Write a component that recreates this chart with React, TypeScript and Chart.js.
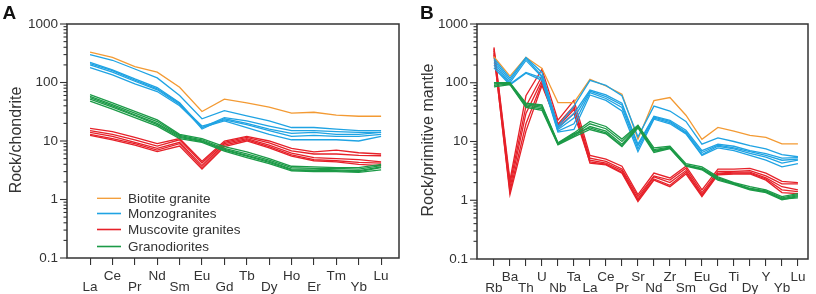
import React, { useEffect, useRef } from 'react';
import { Chart, registerables } from 'chart.js';

Chart.register(...registerables);

// ---------- categories ----------
const reeLabels = ['La', 'Ce', 'Pr', 'Nd', 'Sm', 'Eu', 'Gd', 'Tb', 'Dy', 'Ho', 'Er', 'Tm', 'Yb', 'Lu'];
const spiderLabels = ['Rb', 'Ba', 'Th', 'U', 'Nb', 'Ta', 'La', 'Ce', 'Pr', 'Sr', 'Nd', 'Zr', 'Sm', 'Eu', 'Gd', 'Ti', 'Dy', 'Y', 'Yb', 'Lu'];
const yTickLabels = [0.1, 1, 10, 100, 1000];
const groupNames = ['Biotite granite', 'Monzogranites', 'Muscovite granites', 'Granodiorites'];

// ---------- panel A: chondrite-normalised REE ----------
const reeBiotite = [
  [330, 268, 187, 150, 83, 32, 52, 45, 38, 30, 31, 27.7, 26.5, 26.5],
];
const reeMonzo = [
  [300, 240, 170, 120, 60, 24, 33, 27, 22, 17, 17, 16, 15, 15],
  [220, 165, 115, 82, 45, 17, 25, 22, 18, 15, 15, 14.5, 14, 14],
  [210, 160, 110, 78, 44, 16, 24, 20, 16, 13.5, 14, 13, 13, 14],
  [200, 150, 105, 75, 42, 18, 23, 19, 15, 12, 12.5, 12, 12, 13],
  [180, 135, 95, 70, 40, 17, 22, 17, 13, 10.5, 10.5, 10.5, 10, 12],
];
const reeMuscovite = [
  [16.5, 14.5, 11.5, 9, 11, 4.5, 10, 12, 10, 7.5, 6.5, 7, 6.3, 6.0],
  [15, 13, 10.5, 8.2, 10.5, 4.2, 9.5, 11.5, 9.3, 6.8, 6, 6, 5.7, 5.6],
  [14, 12, 9.5, 7.5, 9.5, 3.8, 9, 11, 8.5, 6.2, 5.2, 5, 4.8, 4.4],
  [13, 11, 9, 7, 9, 3.5, 8.5, 10.5, 8, 5.8, 4.8, 4.6, 4.3, 4.2],
  [12.5, 10.5, 8.5, 6.6, 8.2, 3.3, 8, 10, 7.6, 5.5, 4.6, 4.4, 4.0, 3.8],
];
const reeGranodiorite = [
  [62, 45, 32, 23, 13, 11, 8, 6.5, 5, 3.7, 3.6, 3.5, 3.5, 4.0],
  [58, 42, 30, 21.5, 12.5, 10.5, 7.5, 6, 4.7, 3.5, 3.4, 3.4, 3.3, 3.8],
  [55, 40, 28, 20, 12, 10, 7.2, 5.7, 4.5, 3.3, 3.3, 3.2, 3.1, 3.6],
  [52, 38, 27, 19, 11.5, 9.8, 7, 5.5, 4.3, 3.2, 3.1, 3.1, 3.0, 3.5],
  [48, 35, 25, 18, 11, 9.5, 6.7, 5.2, 4.1, 3.1, 3.0, 3.0, 2.9, 3.2],
];

// ---------- panel B: primitive-mantle-normalised spider ----------
const spBiotite = [
  [277, 130, 270, 176, 46, 46, 114, 88, 64, 10.9, 49.5, 56, 28, 10.9, 17.4, 15, 12.7, 11.8, 9.1, 9.1],
];
const spMonzo = [
  [260, 120, 270, 150, 18, 40, 110, 90, 60, 12, 40, 33, 22, 9, 11.5, 10, 8.5, 7.5, 6, 5.5],
  [240, 110, 260, 130, 17, 30, 75, 62, 45, 9, 27, 23, 15.5, 7, 9, 8.3, 7, 6.2, 5.2, 5.3],
  [220, 100, 240, 125, 16, 25, 72, 58, 42, 8.5, 26, 22, 14.5, 6.5, 8.7, 7.8, 6.7, 5.8, 4.8, 5.0],
  [200, 95, 150, 120, 15, 20, 68, 54, 38, 7.5, 25, 21, 14, 6, 8.3, 7.5, 6.3, 5.4, 4.3, 4.8],
  [180, 92, 145, 110, 14.5, 16, 62, 50, 33, 6.7, 24, 20, 13.5, 5.8, 7.8, 7.0, 5.8, 4.8, 3.7, 4.2],
];
const spMuscovite = [
  [400, 2.2, 60, 170, 23, 50, 5.8, 5.0, 3.8, 1.25, 2.9, 2.4, 3.8, 1.5, 3.4, 3.4, 3.5, 2.9, 2.1, 2.0],
  [380, 1.9, 40, 130, 20, 40, 5.2, 4.6, 3.4, 1.15, 2.6, 2.2, 3.5, 1.35, 3.1, 3.1, 3.2, 2.6, 1.9, 1.9],
  [350, 1.6, 30, 110, 18, 35, 4.8, 4.3, 3.2, 1.05, 2.5, 2.0, 3.2, 1.25, 2.9, 3.0, 3.0, 2.4, 1.7, 1.5],
  [300, 1.4, 20, 100, 17, 30, 4.5, 4.1, 3.0, 1.0, 2.3, 1.8, 3.0, 1.2, 2.8, 2.9, 2.9, 2.3, 1.5, 1.4],
  [320, 1.25, 15, 90, 19, 38, 4.3, 4.0, 2.9, 0.95, 2.2, 1.7, 2.8, 1.15, 2.7, 2.8, 2.8, 2.2, 1.35, 1.3],
];
const spGranodiorite = [
  [100, 100, 45, 42, 9.5, 14, 22, 18, 11, 19, 7.8, 8.3, 4.2, 3.7, 2.5, 2.0, 1.7, 1.5, 1.15, 1.3],
  [95, 98, 42, 38, 9.2, 13, 20, 16.5, 10, 18.5, 7.3, 8.0, 4.0, 3.5, 2.4, 1.95, 1.6, 1.45, 1.1, 1.25],
  [90, 95, 40, 36, 9, 12.5, 18, 15, 9, 18, 7, 7.8, 3.9, 3.4, 2.3, 1.9, 1.55, 1.4, 1.05, 1.2],
  [85, 93, 38, 34, 8.8, 12, 16, 13.5, 8.2, 17, 6.5, 7.6, 3.8, 3.3, 2.2, 1.85, 1.5, 1.35, 1.02, 1.15],
  [100, 96, 44, 40, 9.3, 13.5, 17, 14, 8.5, 18, 6.8, 7.7, 3.9, 3.4, 2.3, 1.9, 1.55, 1.4, 1.05, 1.1],
];

const COLORS = {
  biotite: '#f39a33',
  monzo: '#1fa3e3',
  muscovite: '#e62129',
  granodiorite: '#1c9a47',
};
const INK = '#333333';
const FONT = "'Liberation Sans', Arial, sans-serif";

type PanelSpec = {
  letter: string;
  yTitle: string;
  labels: string[];
  groups: { name: string; color: string; rows: number[][] }[];
  xMin: number;
  xMax: number;
  yWidth: number;
  padRight: number;
  xHeight: number;
  legend: boolean;
};

function buildDatasets(spec: PanelSpec) {
  const ds: any[] = [];
  spec.groups.forEach((g) => {
    g.rows.forEach((row) => {
      ds.push({
        label: g.name,
        data: row.map((v, i) => ({ x: i, y: v })),
        borderColor: g.color,
        backgroundColor: g.color,
        borderWidth: 1.3,
        pointRadius: 0,
        showLine: true,
        fill: false,
        tension: 0,
      });
    });
  });
  return ds;
}

function makeDecorPlugin(spec: PanelSpec) {
  return {
    id: 'decor' + spec.letter,
    afterDraw(chart: any) {
      const { ctx, chartArea } = chart;
      const { left, top, right, bottom } = chartArea;
      const yScale = chart.scales.y;
      ctx.save();
      // frame
      ctx.strokeStyle = INK;
      ctx.lineWidth = 1.5;
      ctx.strokeRect(left, top, right - left, bottom - top);
      // y ticks (major + minor)
      ctx.lineWidth = 1.1;
      yScale.ticks.forEach((t: any) => {
        const y = yScale.getPixelForValue(t.value);
        const major = yTickLabels.some((v) => Math.abs(v - t.value) < 1e-9);
        const len = major ? 7 : 3.5;
        ctx.beginPath();
        ctx.moveTo(left - len, y);
        ctx.lineTo(left, y);
        ctx.stroke();
      });
      // panel letter
      ctx.fillStyle = '#111';
      ctx.font = `bold 19px ${FONT}`;
      ctx.textAlign = 'left';
      ctx.textBaseline = 'alphabetic';
      ctx.fillText(spec.letter, spec.letter === 'A' ? 2.5 : 12, 19);
      // y title
      ctx.fillStyle = INK;
      ctx.font = `16px ${FONT}`;
      ctx.translate(spec.letter === 'A' ? 17 : 21, 140);
      ctx.rotate(-Math.PI / 2);
      ctx.textAlign = 'center';
      ctx.textBaseline = 'middle';
      ctx.fillText(spec.yTitle, 0, 0);
      ctx.restore();

      if (spec.legend) {
        ctx.save();
        ctx.font = `13.5px ${FONT}`;
        ctx.textAlign = 'left';
        ctx.textBaseline = 'middle';
        const rowsY = [198.3, 213.5, 229.5, 246.5];
        spec.groups
          .slice()
          .sort((a, b) => groupNames.indexOf(a.name) - groupNames.indexOf(b.name))
          .forEach((g, i) => {
            const y = rowsY[i];
            ctx.strokeStyle = g.color;
            ctx.lineWidth = i === 0 ? 1.3 : 1.6;
            ctx.beginPath();
            ctx.moveTo(97, y);
            ctx.lineTo(121, y);
            ctx.stroke();
            ctx.fillStyle = INK;
            ctx.fillText(g.name, 128, y + 0.5);
          });
        ctx.restore();
      }
    },
  };
}

function makeConfig(spec: PanelSpec): any {
  return {
    type: 'scatter',
    data: { datasets: buildDatasets(spec) },
    options: {
      animation: false,
      responsive: false,
      maintainAspectRatio: false,
      layout: { padding: { left: 0, right: spec.padRight, top: 24, bottom: 0 } },
      plugins: { legend: { display: false }, tooltip: { enabled: false } },
      scales: {
        x: {
          type: 'linear',
          min: spec.xMin,
          max: spec.xMax,
          afterBuildTicks: (scale: any) => {
            scale.ticks = spec.labels.map((_, i) => ({ value: i }));
          },
          afterFit: (scale: any) => {
            scale.height = spec.xHeight;
          },
          grid: {
            display: true,
            drawOnChartArea: false,
            drawTicks: true,
            tickLength: 7,
            color: INK,
            lineWidth: 1.1,
          },
          border: { display: false },
          ticks: {
            autoSkip: false,
            maxRotation: 0,
            minRotation: 0,
            padding: 6.5,
            color: INK,
            font: { family: FONT, size: 13.5, lineHeight: '10.5px' },
            callback: (v: any) => {
              const i = Math.round(Number(v));
              const name = spec.labels[i] ?? '';
              return i % 2 === 0 ? ['', name] : [name, ''];
            },
          },
        },
        y: {
          type: 'logarithmic',
          min: 0.1,
          max: 1000,
          afterBuildTicks: (scale: any) => {
            const t: any[] = [];
            for (let e = -1; e < 3; e++) {
              for (let m = 1; m < 10; m++) t.push({ value: m * Math.pow(10, e) });
            }
            t.push({ value: 1000 });
            scale.ticks = t;
          },
          afterFit: (scale: any) => {
            scale.width = spec.yWidth;
          },
          grid: { display: false, drawTicks: false },
          border: { display: false },
          ticks: {
            autoSkip: false,
            padding: 9,
            color: INK,
            font: { family: FONT, size: 13.5 },
            callback: (v: any) => {
              const n = Number(v);
              const hit = yTickLabels.find((t) => Math.abs(t - n) < 1e-9);
              return hit !== undefined ? String(hit) : '';
            },
          },
        },
      },
    },
    plugins: [makeDecorPlugin(spec)],
  };
}

const panelA: PanelSpec = {
  letter: 'A',
  yTitle: 'Rock/chondrite',
  labels: reeLabels,
  groups: [
    { name: 'Granodiorites', color: COLORS.granodiorite, rows: reeGranodiorite },
    { name: 'Muscovite granites', color: COLORS.muscovite, rows: reeMuscovite },
    { name: 'Monzogranites', color: COLORS.monzo, rows: reeMonzo },
    { name: 'Biotite granite', color: COLORS.biotite, rows: reeBiotite },
  ],
  xMin: -1.03,
  xMax: 13.8,
  yWidth: 67,
  padRight: 9,
  xHeight: 36,
  legend: true,
};

const panelB: PanelSpec = {
  letter: 'B',
  yTitle: 'Rock/primitive mantle',
  labels: spiderLabels,
  groups: [
    { name: 'Granodiorites', color: COLORS.granodiorite, rows: spGranodiorite },
    { name: 'Monzogranites', color: COLORS.monzo, rows: spMonzo },
    { name: 'Biotite granite', color: COLORS.biotite, rows: spBiotite },
    { name: 'Muscovite granites', color: COLORS.muscovite, rows: spMuscovite },
  ],
  xMin: -1.06,
  xMax: 19.63,
  yWidth: 69,
  padRight: 8,
  xHeight: 35,
  legend: false,
};

function Panel({ spec, left }: { spec: PanelSpec; left: number }) {
  const ref = useRef<HTMLCanvasElement | null>(null);
  useEffect(() => {
    if (!ref.current) return;
    const chart = new Chart(ref.current, makeConfig(spec));
    return () => chart.destroy();
  }, [spec]);
  return (
    <div style={{ position: 'absolute', left, top: 0, width: 408, height: 294 }}>
      <canvas ref={ref} width={408} height={294} style={{ width: 408, height: 294, display: 'block' }} />
    </div>
  );
}

export default function App() {
  return (
    <div
      style={{
        position: 'fixed',
        left: 0,
        top: 0,
        width: 816,
        height: 294,
        background: '#ffffff',
        overflow: 'hidden',
      }}
    >
      <Panel spec={panelA} left={0} />
      <Panel spec={panelB} left={408} />
    </div>
  );
}
